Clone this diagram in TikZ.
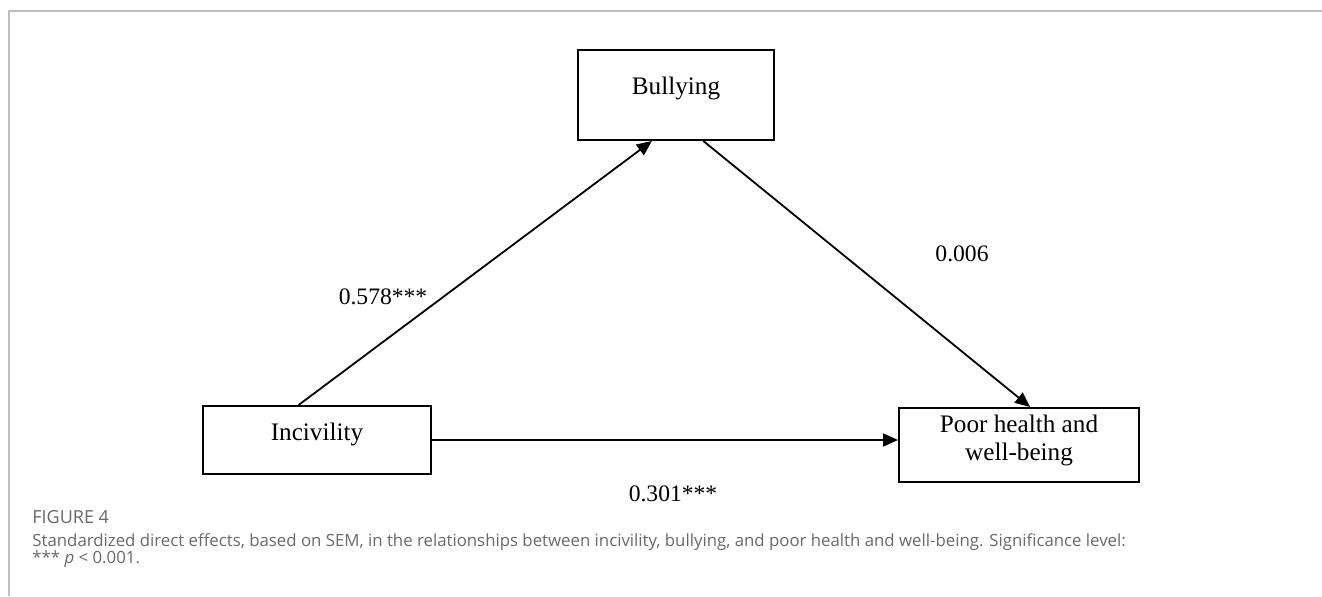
\documentclass[tikz,border=0pt]{standalone}
\usepackage{fontspec}
\setmainfont{Liberation Serif}
\newfontfamily\capfont{Open Sans}
\usetikzlibrary{positioning,calc,arrows.meta}
\definecolor{framegray}{RGB}{190,190,190}
\definecolor{capgray}{RGB}{105,105,105}
\tikzset{
  box/.style={draw, line width=1pt, inner sep=0pt},
  boxtext/.style={font=\fontsize{12.6}{14}\selectfont, align=center},
  effect/.style={line width=0.9pt, -{Triangle[length=7.5pt,width=6.5pt]}},
  coef/.style={font=\fontsize{11.8}{13}\selectfont},
  caption/.style={anchor=base west, text=capgray, inner sep=0pt}
}
\begin{document}
\begin{tikzpicture}[x=0.5pt, y=-0.5pt]
    \useasboundingbox (0,0) rectangle (1322,596);
    % frame
    \draw[framegray, line width=1pt] (9,596) -- (9,11) -- (1322,11);

    % boxes
    \node[box, minimum width=98pt, minimum height=45pt,
          label={[boxtext, yshift=3.5pt]center:Bullying}] (bul) at (676,95) {};
    \node[box, minimum width=114pt, minimum height=34pt,
          label={[boxtext, yshift=3pt]center:Incivility}] (inc) at (317,440) {};
    \node[box, minimum width=120pt, minimum height=37pt,
          label={[boxtext, yshift=2.5pt]center:Poor health and\\well-being}] (poor) at (1019,445) {};

    % paths
    \coordinate (incTop) at ($(inc.north west)!0.42!(inc.north east)$);
    \coordinate (bulIn) at ($(bul.south west)!0.378!(bul.south east)$);
    \coordinate (bulOut) at ($(bul.south west)!0.638!(bul.south east)$);
    \coordinate (poorTop) at ($(poor.north west)!0.546!(poor.north east)$);
    \draw[effect] (incTop) -- (bulIn);
    \draw[effect] (bulOut) -- (poorTop);
    \draw[effect] (inc.east) -- (inc.east -| poor.west);

    % coefficients
    \node[coef] (a) at (383,297) {0.578***};
    \node[coef] (b) at (962,254) {0.006};
    \node[coef] (c) at (673,494) {0.301***};

    % caption
    \node[caption, font=\capfont\fontsize{9}{10}\selectfont] (fig) at (32,523) {FIGURE 4};
    \node[caption, font=\capfont\fontsize{8.4}{10}\selectfont] (cap1) at (32,546)
        {Standardized direct effects, based on SEM, in the relationships between incivility, bullying, and poor health and well-being. Significance level:};
    \node[caption, font=\capfont\fontsize{8.4}{10}\selectfont] (cap2) at (32,563)
        {*** \textit{p} < 0.001.};
\end{tikzpicture}
\end{document}
